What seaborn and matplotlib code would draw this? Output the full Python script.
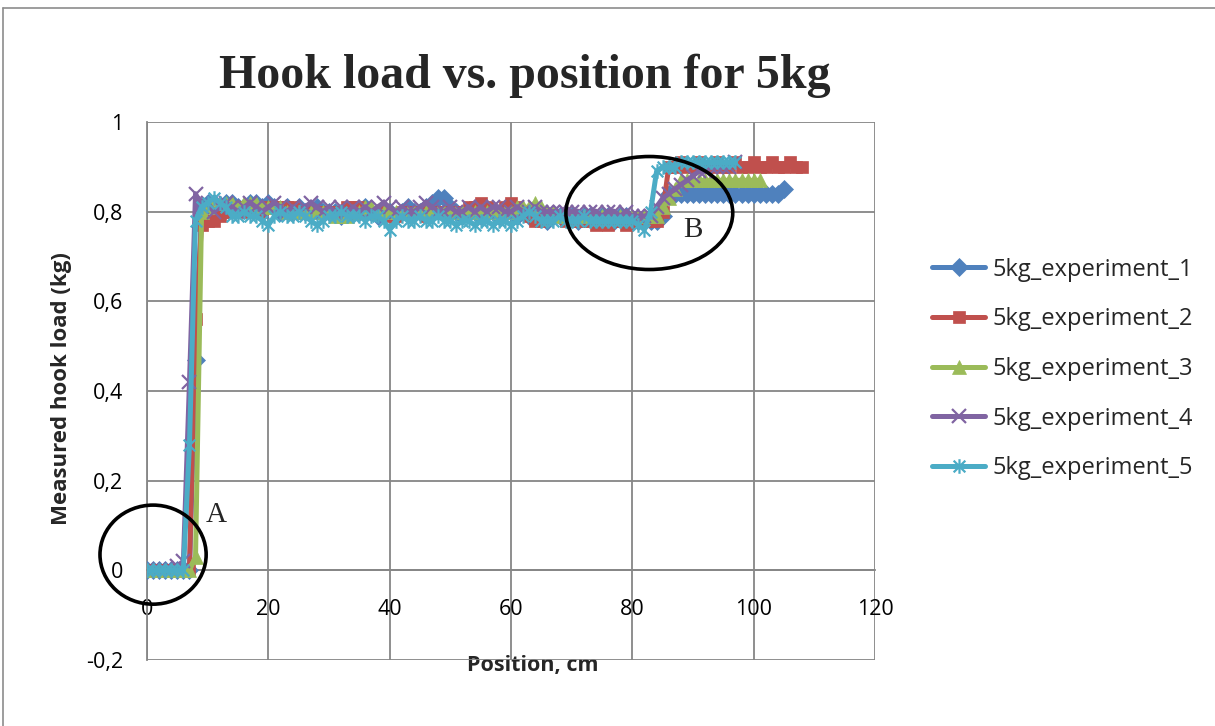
import matplotlib
matplotlib.use("Agg")
import matplotlib.pyplot as plt
import matplotlib.path as mpath
from matplotlib.patches import Ellipse
from matplotlib.lines import Line2D
import pandas as pd
import seaborn as sns

# ---- data: hook load (kg) measured every centimetre of travel ----
series_names = ["5kg_experiment_1", "5kg_experiment_2", "5kg_experiment_3",
                "5kg_experiment_4", "5kg_experiment_5"]

pos_exp1 = list(range(0, 106))
load_exp1 = [0, 0, 0, 0, 0, 0, 0, 0, 0.47,
             0.81, 0.82, 0.82, 0.81, 0.82, 0.82, 0.81, 0.81, 0.82, 0.82,
             0.81, 0.82, 0.81, 0.80, 0.81, 0.80, 0.81, 0.80, 0.80, 0.81,
             0.80, 0.80, 0.80, 0.79, 0.80, 0.80, 0.80, 0.81, 0.80, 0.79,
             0.80, 0.80, 0.79, 0.80, 0.81, 0.80, 0.80, 0.81, 0.82, 0.83,
             0.83, 0.81, 0.80, 0.79, 0.80, 0.80, 0.79, 0.80, 0.80, 0.79,
             0.80, 0.80, 0.79, 0.80, 0.79, 0.79, 0.80, 0.78, 0.79, 0.79,
             0.79, 0.79, 0.78, 0.79, 0.79, 0.78, 0.79, 0.79, 0.78, 0.79,
             0.79, 0.78, 0.78, 0.78, 0.78, 0.78, 0.79, 0.84, 0.84, 0.84,
             0.84, 0.84, 0.84, 0.84, 0.84, 0.84, 0.84, 0.84, 0.84, 0.84,
             0.84, 0.84, 0.84, 0.84, 0.84, 0.84, 0.85]

pos_exp2 = list(range(0, 109))
load_exp2 = [0, 0, 0, 0, 0, 0, 0, 0, 0.56,
             0.77, 0.78, 0.78, 0.79, 0.80, 0.80, 0.81, 0.80, 0.81, 0.80,
             0.80, 0.81, 0.81, 0.81, 0.81, 0.81, 0.80, 0.80, 0.80, 0.80,
             0.80, 0.80, 0.80, 0.80, 0.81, 0.81, 0.81, 0.80, 0.80, 0.80,
             0.80, 0.79, 0.79, 0.80, 0.80, 0.80, 0.80, 0.79, 0.80, 0.80,
             0.80, 0.80, 0.80, 0.80, 0.81, 0.81, 0.82, 0.81, 0.80, 0.80,
             0.81, 0.82, 0.81, 0.80, 0.79, 0.78, 0.78, 0.79, 0.79, 0.79,
             0.78, 0.78, 0.78, 0.78, 0.78, 0.77, 0.78, 0.77, 0.78, 0.78,
             0.77, 0.78, 0.78, 0.78, 0.78, 0.78, 0.80, 0.90, 0.90, 0.91,
             0.90, 0.90, 0.91, 0.90, 0.90, 0.91, 0.90, 0.90, 0.91, 0.90,
             0.90, 0.91, 0.90, 0.90, 0.91, 0.90, 0.90, 0.91, 0.90, 0.90]

pos_exp3 = list(range(0, 102))
load_exp3 = [0, 0, 0, 0, 0, 0, 0, 0, 0.03,
             0.80, 0.81, 0.82, 0.82, 0.82, 0.82, 0.81, 0.82, 0.82, 0.82,
             0.81, 0.81, 0.81, 0.81, 0.80, 0.80, 0.80, 0.80, 0.80, 0.80,
             0.80, 0.80, 0.79, 0.79, 0.79, 0.80, 0.80, 0.81, 0.81, 0.80,
             0.80, 0.80, 0.80, 0.80, 0.80, 0.80, 0.80, 0.80, 0.80, 0.80,
             0.80, 0.80, 0.80, 0.80, 0.80, 0.80, 0.80, 0.80, 0.80, 0.80,
             0.80, 0.80, 0.81, 0.81, 0.81, 0.82, 0.81, 0.80, 0.80, 0.79,
             0.79, 0.79, 0.79, 0.79, 0.79, 0.79, 0.79, 0.79, 0.79, 0.79,
             0.79, 0.79, 0.79, 0.79, 0.79, 0.79, 0.81, 0.83, 0.85, 0.87,
             0.87, 0.87, 0.87, 0.87, 0.87, 0.87, 0.87, 0.87, 0.87, 0.87,
             0.87, 0.87, 0.87]

pos_exp4 = list(range(0, 98))
load_exp4 = [0, 0, 0, 0, 0, 0.01, 0.02, 0.42, 0.84,
             0.81, 0.82, 0.80, 0.81, 0.82, 0.81, 0.80, 0.81, 0.82, 0.81,
             0.80, 0.81, 0.82, 0.81, 0.80, 0.81, 0.80, 0.81, 0.82, 0.81,
             0.80, 0.81, 0.80, 0.81, 0.80, 0.81, 0.80, 0.81, 0.80, 0.81,
             0.82, 0.81, 0.80, 0.81, 0.80, 0.80, 0.81, 0.82, 0.81, 0.80,
             0.80, 0.81, 0.80, 0.80, 0.81, 0.80, 0.81, 0.80, 0.81, 0.81,
             0.80, 0.80, 0.81, 0.80, 0.80, 0.81, 0.80, 0.80, 0.80, 0.80,
             0.80, 0.80, 0.80, 0.79, 0.80, 0.80, 0.79, 0.80, 0.80, 0.79,
             0.80, 0.79, 0.79, 0.79, 0.79, 0.81, 0.83, 0.84, 0.85, 0.86,
             0.87, 0.88, 0.89, 0.89, 0.90, 0.90, 0.90, 0.90, 0.91]

pos_exp5 = list(range(0, 98))
load_exp5 = [0, 0, 0, 0, 0, 0, 0, 0.28, 0.78,
             0.81, 0.82, 0.83, 0.82, 0.81, 0.79, 0.79, 0.80, 0.79, 0.79,
             0.78, 0.77, 0.79, 0.80, 0.79, 0.79, 0.80, 0.79, 0.78, 0.77,
             0.78, 0.79, 0.79, 0.80, 0.79, 0.79, 0.79, 0.78, 0.79, 0.79,
             0.78, 0.76, 0.78, 0.79, 0.78, 0.78, 0.79, 0.78, 0.78, 0.79,
             0.78, 0.78, 0.77, 0.78, 0.78, 0.77, 0.78, 0.78, 0.77, 0.78,
             0.78, 0.77, 0.78, 0.79, 0.80, 0.79, 0.78, 0.78, 0.78, 0.79,
             0.78, 0.78, 0.78, 0.79, 0.78, 0.78, 0.78, 0.78, 0.78, 0.78,
             0.78, 0.78, 0.77, 0.76, 0.80, 0.89, 0.90, 0.90, 0.90, 0.91,
             0.91, 0.91, 0.91, 0.91, 0.91, 0.91, 0.91, 0.91, 0.91]

x_ticks = [0, 20, 40, 60, 80, 100, 120]
y_ticks = [-0.2, 0, 0.2, 0.4, 0.6, 0.8, 1.0]
y_tick_labels = ["-0,2", "0", "0,2", "0,4", "0,6", "0,8", "1"]

frames = []
for name, pos, load in zip(series_names,
                           [pos_exp1, pos_exp2, pos_exp3, pos_exp4, pos_exp5],
                           [load_exp1, load_exp2, load_exp3, load_exp4, load_exp5]):
    frames.append(pd.DataFrame({"position": pos, "load": load, "series": name}))
df = pd.concat(frames, ignore_index=True)

# ---- styling ----
sns.set_style("white")
plt.rcParams["font.family"] = ["Open Sans", "DejaVu Sans"]

colors = ["#4F81BD", "#C0504D", "#9BBB59", "#8064A2", "#4BACC6"]

# asterisk-like marker: an "x" with a vertical bar through it
star_path = mpath.Path(
    [(-1, -1), (1, 1), (-1, 1), (1, -1), (0, -1.25), (0, 1.25)],
    [mpath.Path.MOVETO, mpath.Path.LINETO,
     mpath.Path.MOVETO, mpath.Path.LINETO,
     mpath.Path.MOVETO, mpath.Path.LINETO])

marker_styles = [
    dict(marker="D", markersize=9, markerfacecolor=colors[0], markeredgecolor=colors[0], markeredgewidth=0.5),
    dict(marker="s", markersize=9, markerfacecolor=colors[1], markeredgecolor=colors[1], markeredgewidth=0.5),
    dict(marker="^", markersize=10, markerfacecolor=colors[2], markeredgecolor=colors[2], markeredgewidth=0.5),
    dict(marker="x", markersize=10, markerfacecolor="none", markeredgecolor=colors[3], markeredgewidth=1.6),
    dict(marker=star_path, markersize=10.5, markerfacecolor="none", markeredgecolor=colors[4], markeredgewidth=1.6),
]

fig = plt.figure(figsize=(12.15, 7.26), dpi=100)
ax = fig.add_axes([147 / 1215, 1 - 660 / 726, 728 / 1215, 538 / 726])

for i, name in enumerate(series_names):
    sub = df[df["series"] == name]
    sns.lineplot(data=sub, x="position", y="load", ax=ax, color=colors[i],
                 linewidth=3.6, sort=False, estimator=None, legend=False,
                 zorder=3 + i, **marker_styles[i])

ax.set_xlim(0, 120)
ax.set_ylim(-0.2, 1.0)
ax.set_xticks(x_ticks)
ax.set_xticklabels([str(t) for t in x_ticks])
ax.set_yticks(y_ticks)
ax.set_yticklabels(y_tick_labels)

grid_color = "#868686"
ax.grid(True, color=grid_color, linewidth=1.3, zorder=0)
ax.set_axisbelow(True)
for side in ["top", "right"]:
    ax.spines[side].set_visible(False)
ax.spines["left"].set_color(grid_color)
ax.spines["left"].set_linewidth(1.3)
ax.spines["bottom"].set_color(grid_color)
ax.spines["bottom"].set_linewidth(1.3)
ax.spines["bottom"].set_position(("data", 0))

ax.tick_params(axis="y", length=6, width=1.3, color=grid_color, pad=11,
               labelsize=15.5, labelcolor="black")
ax.tick_params(axis="x", length=0, pad=21, labelsize=15.5, labelcolor="black")

ax.set_xlabel("Position, cm", fontsize=15.5, fontweight="bold")
ax.set_ylabel("Measured hook load (kg)", fontsize=16, fontweight="bold")
ax.xaxis.set_label_coords(0.53, -0.01)
ax.xaxis.label.set_va("center")
ax.yaxis.set_label_coords(-0.118, 0.504)
ax.yaxis.label.set_va("center")

# annotated regions A and B
ax.add_patch(Ellipse((1.0, 0.035), width=17.5, height=0.221, fill=False,
                     edgecolor="black", linewidth=2.6, clip_on=False, zorder=10))
ax.add_patch(Ellipse((82.8, 0.797), width=27.5, height=0.252, fill=False,
                     edgecolor="black", linewidth=2.6, clip_on=False, zorder=10))
ax.text(11.4, 0.123, "A", fontsize=21, family="Liberation Serif",
        ha="center", va="center", zorder=11)
ax.text(89.9, 0.759, "B", fontsize=21, family="Liberation Serif",
        ha="center", va="center", zorder=11)

fig.text(525 / 1215, 1 - 76 / 726, "Hook load vs. position for 5kg",
         family="Liberation Serif", fontweight="bold", fontsize=34.5,
         ha="center", va="center")

handles = [Line2D([0], [0], color=colors[i], linewidth=3.6, **marker_styles[i])
           for i in range(len(series_names))]
fig.legend(handles, series_names, loc="center left",
           bbox_to_anchor=(932 / 1215, 1 - 369 / 726), frameon=False,
           fontsize=17, handlelength=2.25, handletextpad=0.3,
           labelspacing=1.09, borderpad=0, borderaxespad=0)

# chart-area frame
fig.add_artist(Line2D([3 / 1215, 1.0], [1 - 8 / 726, 1 - 8 / 726],
                      color="#8c8c8c", linewidth=1.2))
fig.add_artist(Line2D([3 / 1215, 3 / 1215], [0, 1 - 8 / 726],
                      color="#8c8c8c", linewidth=1.2))

fig.savefig("out.png", dpi=100)
